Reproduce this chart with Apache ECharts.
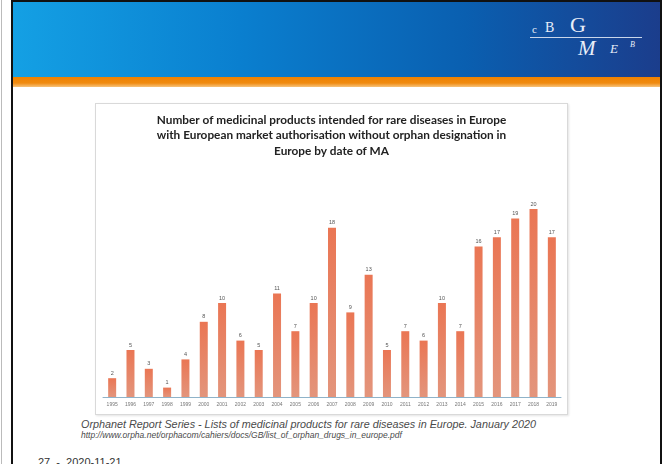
<!DOCTYPE html>
<html>
<head>
<meta charset="utf-8">
<script src="https://cdn.jsdelivr.net/npm/echarts@6/dist/echarts.min.js"></script>
<style>
  html, body { margin: 0; padding: 0; background: #fff; }
  body { width: 669px; height: 464px; position: relative; overflow: hidden; font-family: "Liberation Sans", Arial, sans-serif; }
  .edge { position: absolute; left: 1px; top: 0; width: 1px; height: 464px; background: #bbb; }
  .slide { position: absolute; left: 11px; top: 0; width: 651px; height: 470px; border-left: 2px solid #111; border-right: 2px solid #111; border-top: 2px solid #111; box-sizing: border-box; }
  .header { position: absolute; left: 13px; top: 2px; width: 647px; height: 75px; background: linear-gradient(to right, #14a0e4 0%, #0a7fcf 35%, #0a5fb0 70%, #1b3d8c 100%); }
  .stripe { position: absolute; left: 13px; top: 77px; width: 647px; height: 10px; background: linear-gradient(to bottom, #ef8100 0%, #f08a10 60%, #f7c27a 100%); }
  .logo { position: absolute; color: #e8eef8; font-family: "Liberation Serif", "DejaVu Serif", serif; line-height: 1; }
  .logoline { position: absolute; left: 530px; top: 37px; width: 112px; height: 1px; background: #c9d6ea; }
  .frame { position: absolute; left: 95px; top: 103px; width: 473px; height: 312px; border: 1px solid #d9d9d9; box-shadow: 1px 1px 2px #e4e4e4; box-sizing: border-box; }
  .chart { position: absolute; left: 95px; top: 103px; width: 473px; height: 312px; }
  .note { position: absolute; left: 81px; font-style: italic; color: #4a4a4a; white-space: nowrap; line-height: 1; }
  .foot { position: absolute; left: 38px; top: 457px; font-size: 11px; color: #333; white-space: nowrap; line-height: 1; }
</style>
</head>
<body>
<div class="edge"></div>
<div class="slide"></div>
<div class="header"></div>
<div class="stripe"></div>
<div class="logo" style="left:532px;top:24px;font-size:11px;">c</div>
<div class="logo" style="left:545px;top:21px;font-size:14px;">B</div>
<div class="logo" style="left:570px;top:14px;font-size:22px;">G</div>
<div class="logoline"></div>
<div class="logo" style="left:578px;top:38px;font-size:21px;font-style:italic;">M</div>
<div class="logo" style="left:610px;top:42px;font-size:13px;font-style:italic;">E</div>
<div class="logo" style="left:630px;top:41px;font-size:8px;font-style:italic;">B</div>
<div class="frame"></div>
<div class="chart" id="chart"></div>
<div class="note" style="top:419px;font-size:10.8px;">Orphanet Report Series - Lists of medicinal products for rare diseases in Europe. January 2020</div>
<div class="note" style="top:431px;font-size:8.5px;">http://www.orpha.net/orphacom/cahiers/docs/GB/list_of_orphan_drugs_in_europe.pdf</div>
<div class="foot">27&nbsp;&nbsp;-&nbsp;&nbsp;2020-11-21</div>
<script>
// 数据
var years = ['1995', '1996', '1997', '1998', '1999', '2000', '2001', '2002', '2003', '2004',
             '2005', '2006', '2007', '2008', '2009', '2010', '2011', '2012', '2013', '2014',
             '2015', '2016', '2017', '2018', '2019'];
var counts = [2, 5, 3, 1, 4, 8, 10, 6, 5, 11,
              7, 10, 18, 9, 13, 5, 7, 6, 10, 7,
              16, 17, 19, 20, 17];
var titleLines = [
    'Number of medicinal products intended for rare diseases in Europe',
    'with European market authorisation without orphan designation in',
    'Europe by date of MA'
];

var chart = echarts.init(document.getElementById('chart'));

var option = {
    animation: false,
    title: {
        text: titleLines.join('\n'),
        left: 'center',
        top: 4,
        textStyle: {
            fontFamily: 'Lato',
            fontWeight: 'bold',
            fontSize: 11.8,
            lineHeight: 15.5,
            color: '#222'
        }
    },
    grid: { left: 8, right: 7, top: 106, bottom: 18 },
    xAxis: {
        type: 'category',
        data: years,
        axisLine: { lineStyle: { color: '#8fb3c9', width: 1 } },
        axisTick: { show: false },
        axisLabel: { fontSize: 5, color: '#777', margin: 5, interval: 0 }
    },
    yAxis: {
        type: 'value',
        min: 0,
        max: 20,
        show: false
    },
    series: [{
        type: 'bar',
        data: counts,
        barWidth: 8,
        itemStyle: {
            color: new echarts.graphic.LinearGradient(0, 0, 0, 1, [
                { offset: 0, color: '#ea7654' },
                { offset: 1, color: '#e3957c' }
            ])
        },
        label: {
            show: true,
            position: 'top',
            distance: 2,
            fontSize: 5.5,
            color: '#555'
        }
    }]
};

chart.setOption(option);
</script>
</body>
</html>
